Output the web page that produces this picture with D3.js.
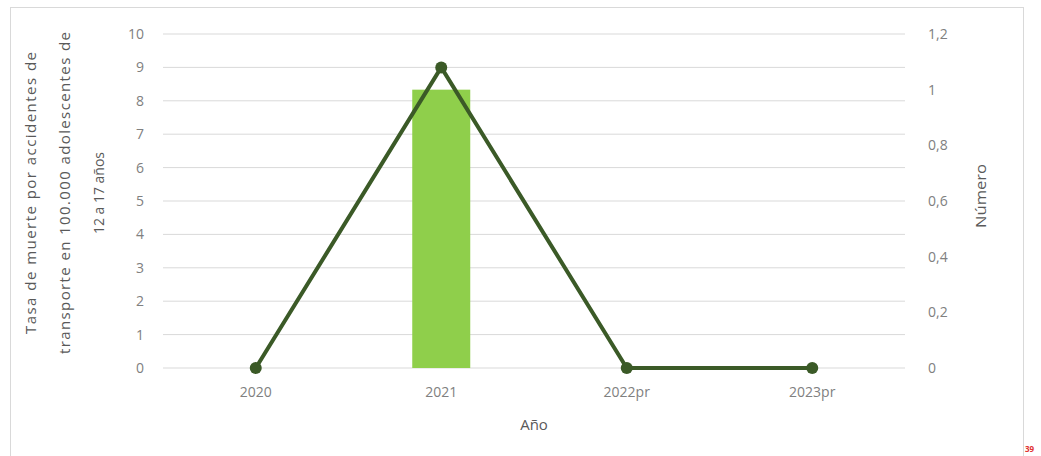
<!DOCTYPE html>
<html><head><meta charset="utf-8">
<script src="https://cdn.jsdelivr.net/npm/d3@7"></script>
<style>body{margin:0;background:#fff}svg{display:block}text{font-family:"Open Sans","Liberation Sans",sans-serif}</style>
</head><body><svg id="c" width="1041" height="456"></svg>
<script>
const categories = ["2020", "2021", "2022pr", "2023pr"];
const numero = [0, 1, 0, 0];          // bars, right axis
const tasa = [0, 9, 0, 0];            // line, left axis
const leftTicks = [0,1,2,3,4,5,6,7,8,9,10];
const rightTicks = [0,0.2,0.4,0.6,0.8,1,1.2];

const svg = d3.select("#c");
const L = 163, R = 905, T = 34, B = 368;
svg.append("rect").attr("x",10.5).attr("y",7.5).attr("width",1013).attr("height",470)
  .attr("fill","#fff").attr("stroke","#d9d9d9");

const x = d3.scaleBand().domain(categories).range([L,R]);
const yL = d3.scaleLinear().domain([0,10]).range([B,T]);
const yR = d3.scaleLinear().domain([0,1.2]).range([B,T]);

// gridlines
svg.append("g").selectAll("line").data(leftTicks).join("line")
  .attr("x1",L).attr("x2",R).attr("y1",d=>yL(d)).attr("y2",d=>yL(d))
  .attr("stroke","#d9d9d9").attr("stroke-width",1);

// axes
const gl = svg.append("g").attr("transform",`translate(${L-6},0)`)
  .call(d3.axisLeft(yL).tickValues(leftTicks).tickSize(0).tickPadding(13));
const gr = svg.append("g").attr("transform",`translate(${R+6},0)`)
  .call(d3.axisRight(yR).tickValues(rightTicks).tickSize(0).tickPadding(17)
    .tickFormat(d=>String(d).replace(".",",")));
const gx = svg.append("g").attr("transform",`translate(0,${B})`)
  .call(d3.axisBottom(x).tickSize(0).tickPadding(19));
[gl,gr,gx].forEach(g=>{g.select(".domain").remove();
  g.selectAll("text").attr("fill","#808080").attr("font-size",14);});

// bars
const bw = 58;
svg.append("g").selectAll("rect").data(categories).join("rect")
  .attr("x",d=>x(d)+x.bandwidth()/2-bw/2).attr("width",bw)
  .attr("y",(d,i)=>yR(numero[i])).attr("height",(d,i)=>yR(0)-yR(numero[i]))
  .attr("fill","#8fcf4b");

// line
const pts = categories.map((c,i)=>[x(c)+x.bandwidth()/2, yL(tasa[i])]);
svg.append("path").attr("d",d3.line()(pts)).attr("fill","none")
  .attr("stroke","#3b5a27").attr("stroke-width",4).attr("stroke-linejoin","round");
svg.append("g").selectAll("circle").data(pts).join("circle")
  .attr("cx",d=>d[0]).attr("cy",d=>d[1]).attr("r",6).attr("fill","#3b5a27");

// titles
const lines = ["Tasa de muerte por accidentes de","transporte en 100.000 adolescentes de","12 a 17 años"];
const lens = [282, 322, 82];
const adj = ["spacing","spacing","spacingAndGlyphs"];
lines.forEach((s,i)=>{
  svg.append("text").attr("transform",`translate(${36+i*34},193) rotate(-90)`)
    .attr("text-anchor","middle").attr("fill","#595959").attr("font-size",15)
    .attr("textLength", lens[i]).attr("lengthAdjust",adj[i]).text(s);
});
svg.append("text").attr("transform","translate(986,196) rotate(-90)")
  .attr("text-anchor","middle").attr("fill","#595959").attr("font-size",15)
  .attr("textLength",64).attr("lengthAdjust","spacingAndGlyphs").text("Número");
svg.append("text").attr("x",534).attr("y",430).attr("text-anchor","middle")
  .attr("fill","#595959").attr("font-size",15).text("Año");
svg.append("text").attr("x",1025).attr("y",452).attr("fill","#e03030")
  .attr("font-size",8).attr("font-weight","bold").text("39");
</script></body></html>
